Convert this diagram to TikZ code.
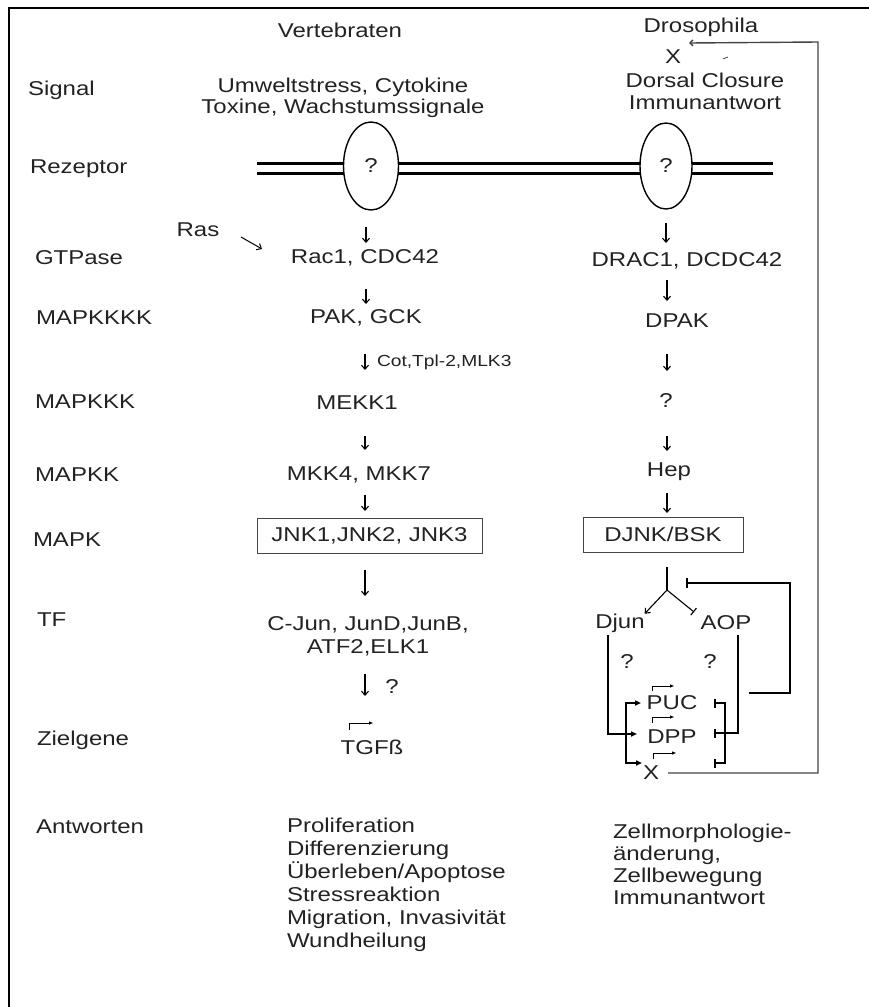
\documentclass[tikz,border=0pt]{standalone}
\usepackage{fontspec}
\setmainfont{Liberation Sans}[FakeStretch=1.2]
\usetikzlibrary{arrows.meta,shapes.geometric}
\definecolor{txtcol}{HTML}{222222}
\definecolor{fbgray}{HTML}{444444}
\begin{document}
\begin{tikzpicture}[x=1pt,y=-1pt,
  every node/.style={inner sep=0pt,outer sep=0pt,text=txtcol,font=\fontsize{20}{22}\selectfont},
  lab/.style={anchor=west},
  small/.style={font=\fontsize{16}{18}\selectfont},
  dn/.style={line width=1.1pt,-{Straight Barb[length=4pt,width=7pt]}},
  act/.style={line width=1.7pt,-{Triangle[length=6pt,width=5pt]}},
  inh/.style={line width=1.7pt,-{Bar[width=9pt]}},
  prom/.style={line width=0.9pt,-{Triangle[length=4pt,width=3pt]}},
  recep/.style={draw,ellipse,fill=white,line width=1.4pt,minimum width=55pt,minimum height=88pt},
  kbox/.style={draw=fbgray,line width=0.9pt,minimum width=225pt,minimum height=35pt},
  fb/.style={line width=1.4pt,draw=fbgray}]
\useasboundingbox (0,0) rectangle (869,1007);
% frame
\draw[line width=2pt] (9,1007) -- (9,8) -- (869,8);
% headers
\node (hV) at (340,30) {Vertebraten};
\node (hD) at (701,27) {Drosophila};
% left labels
\node[lab] (lSig) at (28,90) {Signal};
\node[lab] (lRez) at (30,169) {Rezeptor};
\node[lab] (lGTP) at (35,258) {GTPase};
\node[lab] (lM4) at (36,318) {MAPKKKK};
\node[lab] (lM3) at (35,402) {MAPKKK};
\node[lab] (lM2) at (35,475) {MAPKK};
\node[lab] (lM1) at (33,540) {MAPK};
\node[lab] (lTF) at (37,620) {TF};
\node[lab] (lZG) at (37,740) {Zielgene};
\node[lab] (lAW) at (36,827) {Antworten};
% membrane
\coordinate (mL1) at (257,163); \coordinate (mR1) at (773,163);
\coordinate (mL2) at (257,173); \coordinate (mR2) at (773,173);
\draw[line width=3pt] (mL1) -- (mR1) (mL2) -- (mR2);
\node[recep] (eV) at (371,166) {?};
\node[recep,minimum width=52pt,minimum height=86pt] (eD) at (666,166) {?};
% vertebrate column
\node[align=center,font=\fontsize{20}{21}\selectfont] (sigV) at (343,98) {Umweltstress, Cytokine\\Toxine, Wachstumssignale};
\node (ras) at (198,230) {Ras};
\node (rac) at (365,258) {Rac1, CDC42};
\node (pak) at (366,318) {PAK, GCK};
\node (mekk) at (357,403) {MEKK1};
\node (mkk) at (359,475) {MKK4, MKK7};
\node[kbox] (jnk) at (369.5,535.5) {JNK1,JNK2, JNK3};
\node[align=center,font=\fontsize{20}{23}\selectfont] (tfV) at (368,636) {C-Jun, JunD,JunB,\\ATF2,ELK1};
\node (qV) at (392,687) {?};
\node (tgf) at (372,747) {TGFß};
\node[anchor=north west,align=left,font=\fontsize{20}{23}\selectfont] (resV) at (287,818)
  {Proliferation\\Differenzierung\\Überleben/Apoptose\\Stressreaktion\\Migration, Invasivität\\Wundheilung};
% glyph arrows vertebrates
\coordinate (ra1) at (241,237); \coordinate (ra2) at (262,249);
\draw[line width=1pt,-{Straight Barb[length=4pt,width=7pt]}] (ra1) -- (ra2);
\coordinate (v1a) at (366,227); \coordinate (v1b) at (366,243);
\coordinate (v2a) at (366,289); \coordinate (v2b) at (366,304);
\coordinate (v3a) at (365,354); \coordinate (v3b) at (365,370);
\coordinate (v4a) at (365,436); \coordinate (v4b) at (365,450);
\coordinate (v5a) at (365,495); \coordinate (v5b) at (365,511);
\coordinate (v6a) at (365,570); \coordinate (v6b) at (365,596);
\coordinate (v7a) at (365,674); \coordinate (v7b) at (365,696);
\foreach \a/\b in {v1a/v1b,v2a/v2b,v3a/v3b,v4a/v4b,v5a/v5b,v6a/v6b,v7a/v7b}
  \draw[dn] (\a) -- (\b);
\node[small,anchor=west] (cot) at (377,362) {Cot,Tpl-2,MLK3};
\coordinate (pV1) at (349,730); \coordinate (pV2) at (349,723); \coordinate (pV3) at (373,723);
\draw[prom] (pV1) -- (pV2) -- (pV3);
% drosophila column
\node (xTop) at (673,57) {X};
\node[align=center] (sigD) at (705,91) {Dorsal Closure\\Immunantwort};
\node (drac) at (687,261) {DRAC1, DCDC42};
\node (dpak) at (677,321) {DPAK};
\node (qD) at (666,401) {?};
\node (hep) at (669,472) {Hep};
\node[kbox,minimum width=160pt] (djnk) at (663,534.5) {DJNK/BSK};
\node (djun) at (620,623) {Djun};
\node (aop) at (726,623) {AOP};
\node (q1) at (627,662) {?};
\node (q2) at (710,662) {?};
\node (puc) at (672,703) {PUC};
\node (dpp) at (672,737) {DPP};
\node (xg) at (651,773) {X};
\node[anchor=north west,align=left,font=\fontsize{20}{22}\selectfont] (resD) at (613,824)
  {Zellmorphologie-\\änderung,\\Zellbewegung\\Immunantwort};
\coordinate (d1a) at (666,223); \coordinate (d1b) at (666,243);
\coordinate (d2a) at (667,280); \coordinate (d2b) at (667,301);
\coordinate (d3a) at (667,354); \coordinate (d3b) at (667,371);
\coordinate (d4a) at (667,436); \coordinate (d4b) at (667,451);
\coordinate (d5a) at (667,493); \coordinate (d5b) at (667,513);
\foreach \a/\b in {d1a/d1b,d2a/d2b,d3a/d3b,d4a/d4b,d5a/d5b}
  \draw[dn] (\a) -- (\b);
% branching below DJNK
\coordinate (br0) at (667,567); \coordinate (br1) at (667,590);
\draw[line width=1.6pt] (br0) -- (br1);
\draw[line width=1.1pt,-{Straight Barb[length=4pt,width=7pt]}] (br1) -- (djun.north east);
\coordinate (aopIn) at (694,612);
\draw[line width=1.1pt,-{Bar[width=9pt]}] (br1) -- (aopIn);
% PUC feedback inhibition
\coordinate (fbA) at (749,693); \coordinate (fbB) at (790,693); \coordinate (fbC) at (790,583); \coordinate (fbD) at (686,583);
\draw[line width=1.6pt,-{Bar[width=10pt]}] (fbA) -- (fbB) -- (fbC) -- (fbD);
% Djun activation
\coordinate (dj1) at (608,635); \coordinate (dj2) at (608,734); \coordinate (dj3) at (637,734);
\draw[act] (dj1) -- (dj2) -- (dj3);
% left bracket activating PUC and X
\coordinate (lb1) at (641,703); \coordinate (lb2) at (626,703); \coordinate (lb3) at (626,763); \coordinate (lb4) at (642,763);
\draw[line width=1.7pt,{Triangle[length=6pt,width=5pt]}-{Triangle[length=6pt,width=5pt]}] (lb1) -- (lb2) -- (lb3) -- (lb4);
% right bracket: AOP inhibition
\coordinate (rb1) at (714,703); \coordinate (rb2) at (725,703); \coordinate (rb3) at (725,763); \coordinate (rb4) at (714,763);
\draw[line width=1.7pt,{Bar[width=9pt]}-{Bar[width=9pt]}] (rb1) -- (rb2) -- (rb3) -- (rb4);
\coordinate (ao1) at (738,635); \coordinate (ao2) at (738,733); \coordinate (ao3) at (714,733);
\draw[inh] (ao1) -- (ao2) -- (ao3);
% promoter arrows
\coordinate (pP1) at (652,691); \coordinate (pP2) at (652,686); \coordinate (pP3) at (674,686);
\draw[prom] (pP1) -- (pP2) -- (pP3);
\coordinate (pD1) at (652,723); \coordinate (pD2) at (652,717); \coordinate (pD3) at (674,717);
\draw[prom] (pD1) -- (pD2) -- (pD3);
\coordinate (pX1) at (653,759); \coordinate (pX2) at (653,753); \coordinate (pX3) at (676,753);
\draw[prom] (pX1) -- (pX2) -- (pX3);
% X feedback to top
\coordinate (xf1) at (668,773); \coordinate (xf2) at (818,773); \coordinate (xf3) at (818,42); \coordinate (xf4) at (689,43);
\draw[fb,-{Straight Barb[length=3pt,width=6pt]}] (xf1) -- (xf2) -- (xf3) -- (xf4);
\coordinate (tk1) at (723,59); \coordinate (tk2) at (728,57);
\draw[line width=0.8pt,fbgray] (tk1) -- (tk2);
\end{tikzpicture}
\end{document}
